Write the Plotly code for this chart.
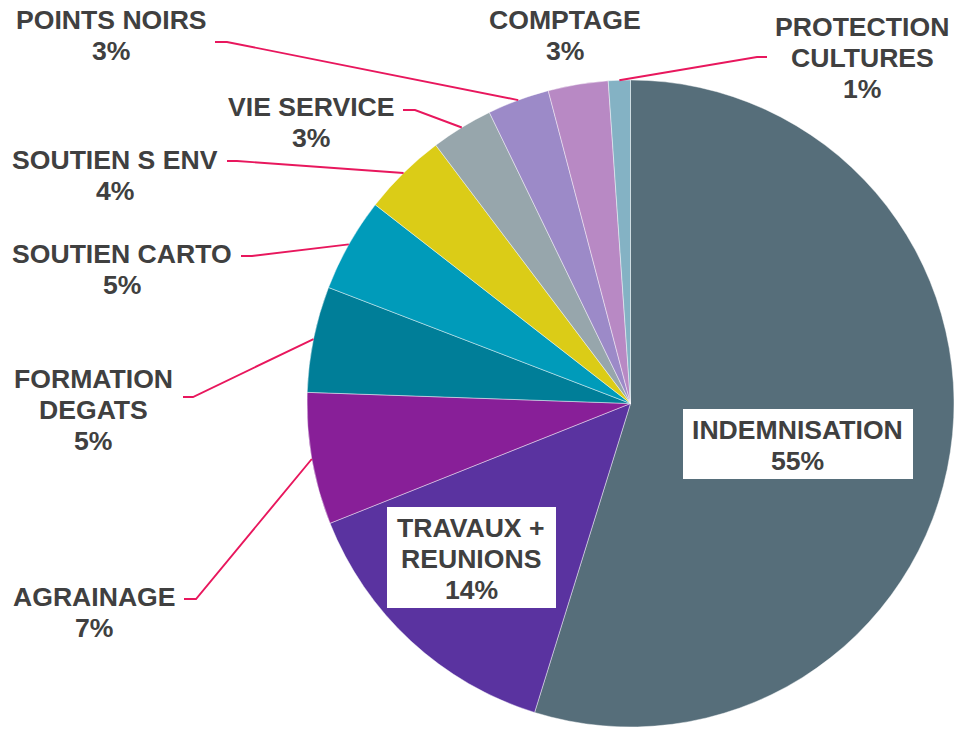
import math
import plotly.graph_objects as go

# ---- data ----
categories = ["INDEMNISATION", "TRAVAUX + REUNIONS", "AGRAINAGE", "FORMATION DEGATS",
              "SOUTIEN CARTO", "SOUTIEN S ENV", "VIE SERVICE", "POINTS NOIRS",
              "COMPTAGE", "PROTECTION CULTURES"]
values = [54.9, 14.2, 6.6, 5.3, 4.7, 4.2, 3.1, 3.1, 3.0, 1.1]
label_lines = [["INDEMNISATION"], ["TRAVAUX +", "REUNIONS"], ["AGRAINAGE"], ["FORMATION", "DEGATS"],
               ["SOUTIEN CARTO"], ["SOUTIEN S ENV"], ["VIE SERVICE"], ["POINTS NOIRS"],
               ["COMPTAGE"], ["PROTECTION", "CULTURES"]]

# ---- styles / layout ----
colors = ["#566E7A", "#5A33A0", "#881F98", "#007E98", "#009BBA",
          "#DBCC17", "#97A6AC", "#9C8AC8", "#B889C4", "#84B2C4"]
W, H = 954, 729
TEXT_COLOR = "#404040"
LEADER_COLOR = "#E8175D"
FONT = "Liberation Sans, Arial, sans-serif"
FS = 26.6
LINE_GAP = 31

# pie geometry (pixels)
dom_x = [307 / W, 1.0]
r = (W - 307) / 2
cx = 307 + r
cy = 403.5
dom_y = [1 - (cy + r) / H, 1 - (cy - r) / H]

# label layout: center x, first-line y (cap centre), leader elbow (start, end), white box
label_layout = {
    "INDEMNISATION": dict(x=797, y=430, box=(683, 409, 913, 479)),
    "TRAVAUX + REUNIONS": dict(x=471, y=528, box=(387, 507, 556, 608)),
    "AGRAINAGE": dict(x=94, y=597, elbow=((184, 599), (196, 599))),
    "FORMATION DEGATS": dict(x=93, y=379, elbow=((183, 397), (193, 397))),
    "SOUTIEN CARTO": dict(x=122, y=254, elbow=((241, 256), (252, 256))),
    "SOUTIEN S ENV": dict(x=115, y=160, elbow=((227, 161), (237, 161))),
    "VIE SERVICE": dict(x=311, y=107, elbow=((403, 110), (415, 110))),
    "POINTS NOIRS": dict(x=111, y=20, elbow=((215, 42), (227, 42))),
    "COMPTAGE": dict(x=565, y=20),
    "PROTECTION CULTURES": dict(x=862, y=27, elbow=((767, 57), (757, 57))),
}


def px(x):
    return x / W


def py(y):
    return 1 - y / H


total = sum(values)
pcts = [round(v / total * 100) for v in values]

fig = go.Figure(go.Pie(
    labels=categories, values=values, sort=False, direction="clockwise", rotation=0,
    marker=dict(colors=colors, line=dict(color="rgba(255,255,255,0.55)", width=0.8)),
    textinfo="none", hoverinfo="label+percent", showlegend=False,
    domain=dict(x=dom_x, y=dom_y),
))

shapes = []
annotations = []
cum = 0.0
for cat, v, lines, p in zip(categories, values, label_lines, pcts):
    mid = (cum + v / 2) / total
    cum += v
    ang = 2 * math.pi * mid
    ex, ey = cx + r * math.sin(ang), cy - r * math.cos(ang)
    L = label_layout[cat]
    all_lines = lines + [f"{p}%"]
    if "box" in L:
        x0, y0, x1, y1 = L["box"]
        shapes.append(dict(type="rect", xref="paper", yref="paper",
                           x0=px(x0), x1=px(x1), y0=py(y1), y1=py(y0),
                           fillcolor="white", line=dict(width=0), layer="above"))
    if "elbow" in L:
        (sx, sy), (mx, my) = L["elbow"]
        shapes.append(dict(type="path", xref="paper", yref="paper",
                           path=f"M {px(sx)} {py(sy)} L {px(mx)} {py(my)} L {px(ex)} {py(ey)}",
                           line=dict(color=LEADER_COLOR, width=1.9), layer="above"))
    for i, t in enumerate(all_lines):
        annotations.append(dict(
            x=px(L["x"]), y=py(L["y"] + i * LINE_GAP), xref="paper", yref="paper",
            text=t, showarrow=False, xanchor="center", yanchor="middle",
            font=dict(family=FONT, size=FS, color=TEXT_COLOR, weight="bold"),
        ))

fig.update_layout(
    width=W, height=H, margin=dict(l=0, r=0, t=0, b=0),
    paper_bgcolor="white", plot_bgcolor="white",
    shapes=shapes, annotations=annotations,
)

fig.write_html(
    "out.html",
    config={"displayModeBar": False},
    post_script="document.body.style.margin='0';document.body.style.overflow='hidden';",
)
